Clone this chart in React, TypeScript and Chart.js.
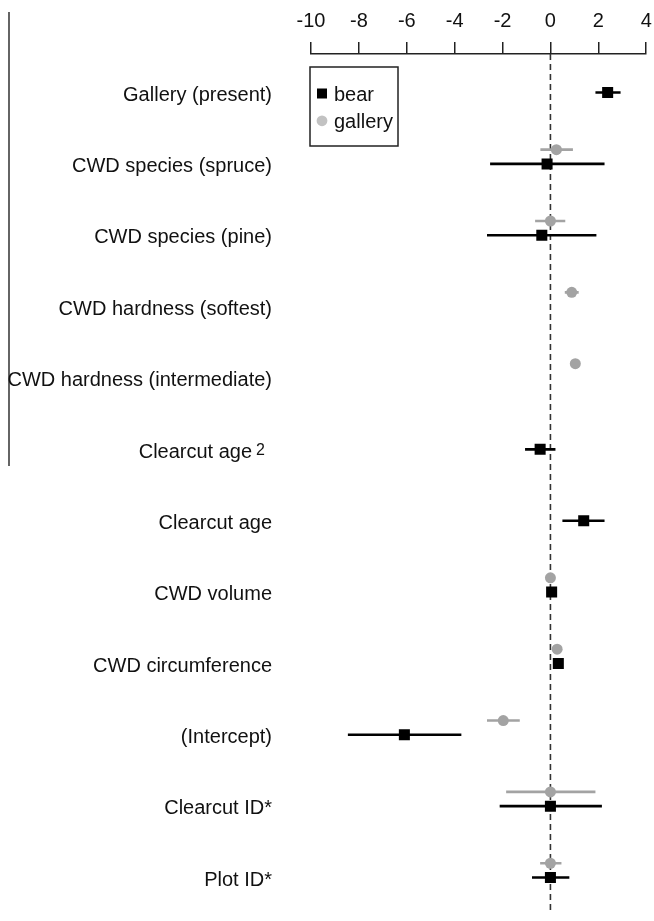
import React, { useEffect, useRef } from "react";
import { Chart, registerables } from "chart.js";

Chart.register(...registerables);

// ---- data ----
const rowLabels = [
  "Gallery (present)",
  "CWD species (spruce)",
  "CWD species (pine)",
  "CWD hardness (softest)",
  "CWD hardness (intermediate)",
  "Clearcut age",
  "Clearcut age",
  "CWD volume",
  "CWD circumference",
  "(Intercept)",
  "Clearcut ID*",
  "Plot ID*",
];
const rowSuperscripts = ["", "", "", "", "", "2", "", "", "", "", "", ""];

const bearEstimate = [2.39, -0.14, -0.36, null, null, -0.43, 1.39, 0.05, 0.33, -6.1, 0.0, 0.0];
const bearLower = [1.88, -2.52, -2.65, null, null, -1.06, 0.5, 0.05, 0.33, -8.46, -2.12, -0.77];
const bearUpper = [2.93, 2.26, 1.92, null, null, 0.21, 2.26, 0.05, 0.33, -3.72, 2.15, 0.79];

const galleryEstimate = [null, 0.25, 0.0, 0.89, 1.04, null, null, 0.0, 0.28, -1.97, 0.0, 0.0];
const galleryLower = [null, -0.42, -0.64, 0.6, 1.04, null, null, 0.0, 0.28, -2.65, -1.85, -0.43];
const galleryUpper = [null, 0.94, 0.62, 1.18, 1.04, null, null, 0.0, 0.28, -1.28, 1.88, 0.46];

const xMin = -10;
const xMax = 4;
const xStep = 2;
const galleryRowOffset = 0.2;

const FONT = '"Liberation Sans", Arial, Helvetica, sans-serif';
const BEAR_COLOR = "#000000";
const GALLERY_COLOR = "#a3a3a3";
const GALLERY_LEGEND_COLOR = "#c2c2c2";

type Pt = { x: number; y: number };

function pointData(est: (number | null)[], offset: number): Pt[] {
  const out: Pt[] = [];
  est.forEach((e, i) => {
    if (e !== null) out.push({ x: e, y: i - offset });
  });
  return out;
}

function barData(est: (number | null)[], lo: (number | null)[], hi: (number | null)[], offset: number): Pt[] {
  const out: Pt[] = [];
  est.forEach((e, i) => {
    if (e === null) return;
    out.push({ x: lo[i] as number, y: i - offset });
    out.push({ x: hi[i] as number, y: i - offset });
    out.push({ x: NaN, y: i - offset });
  });
  return out;
}

const yMin = -0.54;
const yMax = 11.5;

const labelPlugin = {
  id: "rowLabels",
  afterDraw(chart: any) {
    const { ctx, chartArea } = chart;
    const y = chart.scales.y;
    ctx.save();
    // left decorative frame line
    ctx.strokeStyle = "#111";
    ctx.lineWidth = 1.3;
    ctx.beginPath();
    ctx.moveTo(9, 12);
    ctx.lineTo(9, 466);
    ctx.stroke();

    ctx.fillStyle = "#111";
    ctx.textAlign = "right";
    ctx.textBaseline = "alphabetic";
    const right = chartArea.left - 39;
    rowLabels.forEach((lab, i) => {
      const py = y.getPixelForValue(i) + 8.2;
      const sup = rowSuperscripts[i];
      if (sup) {
        ctx.font = `16px ${FONT}`;
        const sw = ctx.measureText(sup).width;
        ctx.fillText(sup, right - 7, py - 3);
        ctx.font = `20px ${FONT}`;
        ctx.fillText(lab, right - 7 - sw - 4, py);
      } else {
        ctx.font = `20px ${FONT}`;
        ctx.fillText(lab, right, py);
      }
    });

    // legend box
    const bx = chartArea.left - 1;
    const by = 67;
    ctx.strokeStyle = "#222";
    ctx.lineWidth = 1.5;
    ctx.strokeRect(bx, by, 88, 79);
    ctx.font = `20px ${FONT}`;
    ctx.textAlign = "left";
    const items = [
      { label: chart.data.datasets[3].label, style: "rect", color: BEAR_COLOR },
      { label: chart.data.datasets[4].label, style: "circle", color: GALLERY_LEGEND_COLOR },
    ];
    items.forEach((it, k) => {
      const cy = by + 26.5 + k * 27.3;
      const cx = bx + 12;
      ctx.fillStyle = it.color;
      if (it.style === "rect") {
        ctx.fillRect(cx - 5, cy - 5, 10, 10);
      } else {
        ctx.beginPath();
        ctx.arc(cx, cy, 5.4, 0, Math.PI * 2);
        ctx.fill();
      }
      ctx.fillStyle = "#111";
      ctx.fillText(it.label, bx + 24, cy + 7.5);
    });
    ctx.restore();
  },
};

export default function App() {
  const ref = useRef<HTMLCanvasElement | null>(null);
  useEffect(() => {
    if (!ref.current) return;
    const chart = new Chart(ref.current, {
      type: "scatter",
      data: {
        datasets: [
          {
            type: "line",
            label: "zero",
            data: [
              { x: 0, y: yMin },
              { x: 0, y: yMax },
            ],
            borderColor: "#333",
            borderWidth: 1.6,
            borderDash: [6, 4],
            pointRadius: 0,
            order: 10,
          } as any,
          {
            type: "line",
            label: "bear CI",
            data: barData(bearEstimate, bearLower, bearUpper, 0),
            borderColor: BEAR_COLOR,
            borderWidth: 2.6,
            pointRadius: 0,
            spanGaps: false,
            order: 5,
          } as any,
          {
            type: "line",
            label: "gallery CI",
            data: barData(galleryEstimate, galleryLower, galleryUpper, galleryRowOffset),
            borderColor: GALLERY_COLOR,
            borderWidth: 2.6,
            pointRadius: 0,
            spanGaps: false,
            order: 6,
          } as any,
          {
            label: "bear",
            data: pointData(bearEstimate, 0),
            pointStyle: "rect",
            pointRadius: 7.8,
            backgroundColor: BEAR_COLOR,
            borderColor: BEAR_COLOR,
            borderWidth: 0,
            order: 1,
          } as any,
          {
            label: "gallery",
            data: pointData(galleryEstimate, galleryRowOffset),
            pointStyle: "circle",
            pointRadius: 5.5,
            backgroundColor: GALLERY_COLOR,
            borderColor: GALLERY_COLOR,
            borderWidth: 0,
            order: 2,
          } as any,
        ],
      },
      options: {
        animation: false,
        responsive: true,
        maintainAspectRatio: false,
        events: [],
        layout: { padding: { left: 311, right: 7, top: 0, bottom: 0 } },
        plugins: {
          legend: { display: false },
          tooltip: { enabled: false },
        },
        scales: {
          x: {
            type: "linear",
            position: "top",
            min: xMin,
            max: xMax,
            ticks: {
              stepSize: xStep,
              font: { family: FONT, size: 20 },
              color: "#111",
              padding: 9,
              maxRotation: 0,
              callback: (v: any) => String(v),
            },
            grid: {
              drawOnChartArea: false,
              drawTicks: true,
              tickLength: 12,
              color: "#222",
              lineWidth: 1.5,
            },
            border: { display: true, color: "#222", width: 1.5 },
            afterFit: (s: any) => {
              s.height = 54;
              s.paddingLeft = 0;
              s.paddingRight = 0;
            },
          },
          y: {
            type: "linear",
            display: false,
            min: yMin,
            max: yMax,
            reverse: true,
          },
        },
      } as any,
      plugins: [labelPlugin],
    });
    return () => chart.destroy();
  }, []);
  return (
    <div style={{ position: "fixed", left: 0, top: 0, width: 654, height: 921, background: "#fff" }}>
      <canvas ref={ref} />
    </div>
  );
}
